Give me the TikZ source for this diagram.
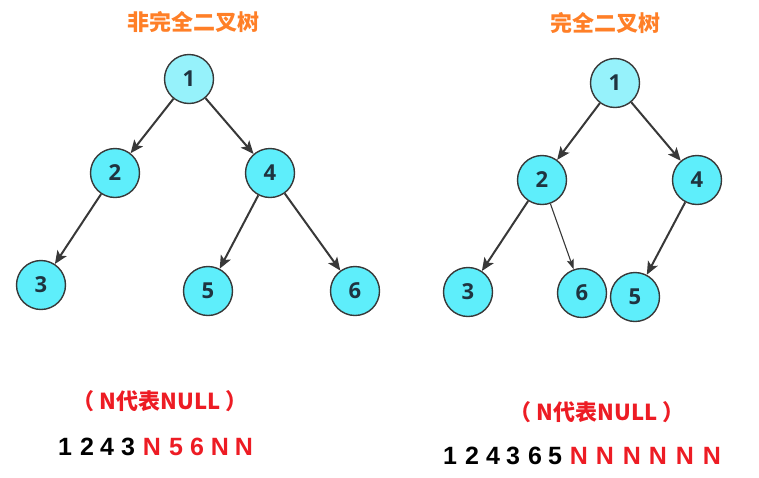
\documentclass[tikz,border=0pt]{standalone}
\usepackage{fontspec}
\setmainfont{Liberation Sans}
\newfontfamily\cjk{Noto Sans CJK SC}
\newfontfamily\labelfont{Open Sans}
\usetikzlibrary{arrows.meta}

\definecolor{titleorange}{HTML}{FF7F27}
\definecolor{nullred}{HTML}{ED1C24}
\definecolor{nodecyan}{HTML}{5EEEFB}
\definecolor{rootcyan}{HTML}{96F2FB}
\definecolor{edgegray}{HTML}{383838}
\definecolor{labelslate}{HTML}{1F3440}

\tikzset{
  treenode/.style={circle, draw=edgegray, line width=1.4pt, fill=nodecyan,
    minimum size=49pt, inner sep=0pt, text=labelslate,
    font=\labelfont\bfseries\fontsize{22}{22}\selectfont},
  rootnode/.style={treenode, fill=rootcyan},
  edge/.style={-{Stealth[length=13pt,width=11pt,inset=3pt]}, draw=edgegray, line width=2pt},
  thinedge/.style={edge, line width=1.1pt, -{Stealth[length=10pt,width=7pt,inset=2pt]}},
  title/.style={font=\cjk\bfseries\fontsize{22}{22}\selectfont, text=titleorange},
  note/.style={font=\cjk\bfseries\fontsize{22}{22}\selectfont, text=nullred},
  seq/.style={font=\bfseries\fontsize{25}{25}\selectfont, anchor=center},
}

\begin{document}
\begin{tikzpicture}[x=1pt, y=-1pt]
    \useasboundingbox (0,0) rectangle (759,477);

    % Tiêu đề
    \node[title] (tleft) at (193,22) {非完全二叉树};
    \node[title] (tright) at (605,23) {完全二叉树};

    % Cây bên trái
    \node[rootnode] (a1) at (189,79) {1};
    \node[treenode] (a2) at (115,173) {2};
    \node[treenode] (a4) at (270,173) {4};
    \node[treenode] (a3) at (41,285) {3};
    \node[treenode] (a5) at (208,291) {5};
    \node[treenode] (a6) at (355,291) {6};
    \draw[edge] (a1) -- (a2);
    \draw[edge] (a1) -- (a4);
    \draw[edge] (a2) -- (a3);
    \draw[edge] (a4) -- (a5);
    \draw[edge] (a4) -- (a6);

    % Cây bên phải
    \node[rootnode] (b1) at (615,83) {1};
    \node[treenode] (b2) at (542,180) {2};
    \node[treenode] (b4) at (697,180) {4};
    \node[treenode] (b3) at (468,292) {3};
    \node[treenode] (b6) at (582,293) {6};
    \node[treenode] (b5) at (635,297) {5};
    \draw[edge] (b1) -- (b2);
    \draw[edge] (b1) -- (b4);
    \draw[edge] (b2) -- (b3);
    \draw[thinedge] (b2) -- (b6);
    \draw[edge] (b4) -- (b5);

    % Ghi chú
    \node[note] (nleft) at (160,401) {（ N代表NULL ）};
    \node[note] (nright) at (597,412) {（ N代表NULL ）};

    % Dãy duyệt
    \foreach \x/\t in {65/1, 87/2, 107/4, 128/3} {
        \node[seq] at (\x,447) {\t};
    }
    \foreach \x/\t in {152/N, 176/5, 197/6, 220/N, 244/N} {
        \node[seq, text=nullred] at (\x,447) {\t};
    }
    \foreach \x/\t in {450/1, 472/2, 493/4, 513/3, 535/6, 555/5} {
        \node[seq] at (\x,456) {\t};
    }
    \foreach \x in {579, 605, 632, 658, 685, 712} {
        \node[seq, text=nullred] at (\x,456) {N};
    }
\end{tikzpicture}
\end{document}
